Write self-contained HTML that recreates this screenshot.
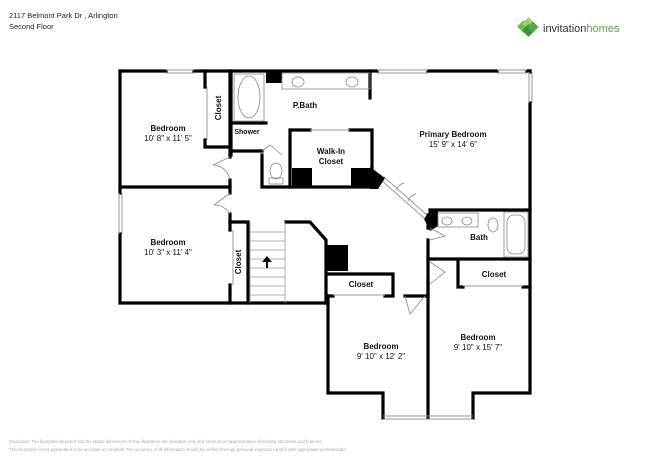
<!DOCTYPE html>
<html><head><meta charset="utf-8"><style>
html,body{margin:0;padding:0;background:#fff;}
svg{display:block;font-family:"Liberation Sans",sans-serif;}
</style></head><body>
<svg width="650" height="460" viewBox="0 0 650 460" xmlns="http://www.w3.org/2000/svg">
<text x="9" y="18" font-size="7.5" fill="#222">2117 Belmont Park Dr , Arlington</text>
<text x="9" y="29" font-size="7.5" fill="#222">Second Floor</text>
<!-- logo -->
<g transform="translate(527,28)">
<rect x="-8" y="-6" width="9" height="9" fill="#6fbf4a" transform="rotate(45 -3.5 -1.5)"/>
<rect x="-3" y="-9" width="9" height="9" fill="#9ad06a" transform="rotate(45 1.5 -4.5)"/>
<rect x="-3" y="-2" width="9" height="9" fill="#3c8f3a" transform="rotate(45 1.5 2.5)"/>
<rect x="2" y="-5" width="8" height="8" fill="#57a845" transform="rotate(45 6 -1)"/>
</g>
<text x="543" y="32" font-size="11" fill="#333">invitation<tspan fill="#5aa845">homes</tspan></text>

<g fill="none" stroke="#000" stroke-width="3.2" stroke-linecap="square">
<path d="M120,71 L166,71 M194,71 L377,71 M428,71 L497,71 M527,71 L530,71"/>
<path d="M120,71 L120,193 M120,234 L120,303 L328,303"/>
<path d="M530,71 L530,72 M530,103 L530,393 L473,393 L473,418 M383,418 L383,393 L328,393 L328,296"/>
<path d="M428,259 L428,418"/>
<path d="M120,187 L230,187"/>
<path d="M205,71 L205,87 M205,140 L205,147 L230,147"/>
<path d="M230,71 L230,157 M230,180 L230,193 M230,214 L230,222"/>
<path d="M231,71 L231,155"/>
<path d="M231,123 L266,123 M231,151 L262,151 M262,155 L262,187 L290,187 M290,130 L290,187"/>
<path d="M290,187 L372,187"/>
<path d="M292,130 L310,130 M350,130 L372,130 L372,172"/>
<path d="M370,71 L370,98"/>
<path d="M230,222 L248,222 L248,303 M230,222 L230,230 M230,285 L230,303"/>
<path d="M286,222 L310,222 L326,240 L326,303"/>
<path d="M328,274 L393,274 L393,296 M328,296 L333,296 M385,296 L393,296"/>
<path d="M430,210 L530,210 M428,228 L428,215 M428,240 L428,262 M430,259 L530,259 M428,280 L428,295"/>
<path d="M458,262 L458,287 L463,287 M523,287 L530,287"/>
<path d="M405,296 L428,296"/>
</g>
<g stroke="#999" stroke-width="1" fill="none">
<path d="M166,70 L194,70 M166,73 L194,73 M377,70 L428,70 M377,73 L428,73 M497,70 L527,70 M497,73 L527,73"/>
<path d="M119,193 L119,234 M122,193 L122,234 M529,72 L529,103 M532,72 L532,103"/>
<path d="M383,416 L428,416 M383,419 L428,419 M428,416 L473,416 M428,419 L473,419"/>
<path d="M207,87 L207,140 M233,230 L233,285 M463,286 L523,286 M333,295 L385,295 M310,130 L350,130"/>
<!-- diagonal thin double wall -->
<path d="M381,180 L424,218 M384,177 L427,215"/>
<path d="M396,190 A12,12 0 0 1 404,183 M408,201 A12,12 0 0 1 416,194"/>
</g>
<g fill="#000">
<rect x="266" y="71" width="16" height="12"/>
<rect x="292" y="168" width="20" height="19"/>
<rect x="351" y="168" width="21" height="19"/>
<polygon points="370,167 385,178 378,189 370,189"/>
<rect x="327" y="245" width="21" height="26"/>
<polygon points="424,219 431,209 438,209 438,226 430,231"/>
</g>
<g stroke="#999" stroke-width="0.8">
<line x1="250" y1="222" x2="250" y2="303"/>
<line x1="285" y1="222" x2="285" y2="303"/>
<line x1="250" y1="232" x2="285" y2="232"/><line x1="250" y1="241" x2="285" y2="241"/>
<line x1="250" y1="250" x2="285" y2="250"/><line x1="250" y1="259" x2="285" y2="259"/>
<line x1="250" y1="268" x2="285" y2="268"/><line x1="250" y1="277" x2="285" y2="277"/>
<line x1="250" y1="286" x2="285" y2="286"/><line x1="250" y1="295" x2="285" y2="295"/>
</g>
<path d="M267,256 L262,262 L266,262 L266,268 L268,268 L268,262 L272,262 Z" fill="#000"/>
<g fill="none" stroke="#888" stroke-width="0.8">
<rect x="234" y="74" width="30" height="47"/>
<ellipse cx="249" cy="97" rx="11" ry="21"/>
<rect x="282" y="73" width="88" height="16"/>
<ellipse cx="298" cy="82" rx="6" ry="5"/><ellipse cx="352" cy="82" rx="6" ry="5"/>
<ellipse cx="276" cy="171" rx="6" ry="8"/><rect x="269" y="178" width="14" height="6"/>
<rect x="438" y="213" width="40" height="14"/>
<ellipse cx="447" cy="221" rx="5" ry="4"/><ellipse cx="467" cy="221" rx="5" ry="4"/>
<ellipse cx="493" cy="225" rx="5" ry="7"/>
<rect x="504" y="212" width="24" height="45"/>
<rect x="507" y="215" width="18" height="39" rx="7"/>
<path d="M230,157 L213,165 M213,165 A18,18 0 0 1 230,180"/>
<path d="M230,193 L214,205 M214,205 A18,18 0 0 1 230,214"/>
<path d="M262,151 L270,145 L282,155"/>
<path d="M430,228 L445,236 L430,240"/>
<path d="M430,262 L445,272 L430,284"/>
<path d="M405,296 L410,314 L425,296"/>
</g>
<g font-size="8" fill="#111" text-anchor="middle">
<text x="168" y="131" font-weight="bold">Bedroom</text><text x="168" y="141">10' 8" x 11' 5"</text>
<text x="168" y="245" font-weight="bold">Bedroom</text><text x="168" y="255">10' 3" x 11' 4"</text>
<text x="305" y="108" font-weight="bold">P.Bath</text>
<text x="247" y="134" font-weight="bold" font-size="7">Shower</text>
<text x="331" y="154" font-weight="bold">Walk-In</text><text x="331" y="164" font-weight="bold">Closet</text>
<text x="453" y="137" font-weight="bold">Primary Bedroom</text><text x="453" y="147">15' 9" x 14' 6"</text>
<text x="479" y="240" font-weight="bold">Bath</text>
<text x="494" y="277" font-weight="bold">Closet</text>
<text x="361" y="287" font-weight="bold">Closet</text>
<text x="381" y="349" font-weight="bold">Bedroom</text><text x="381" y="359">9' 10" x 12' 2"</text>
<text x="478" y="340" font-weight="bold">Bedroom</text><text x="478" y="350">9' 10" x 15' 7"</text>
<text transform="translate(221,108) rotate(-90)" font-weight="bold">Closet</text>
<text transform="translate(241,262) rotate(-90)" font-weight="bold">Closet</text>
</g>
<text x="9" y="443" font-size="4.3" fill="#aaa">Disclaimer: The floorplans depicted and the stated dimensions in this illustration are indicative only and serve as an approximation of existing structures and features.</text>
<text x="9" y="451" font-size="4.3" fill="#aaa">This illustration is not guaranteed to be accurate or complete. The accuracy of all information should be verified through personal inspection and/or with appropriate professionals.</text>
</svg>
</body></html>
